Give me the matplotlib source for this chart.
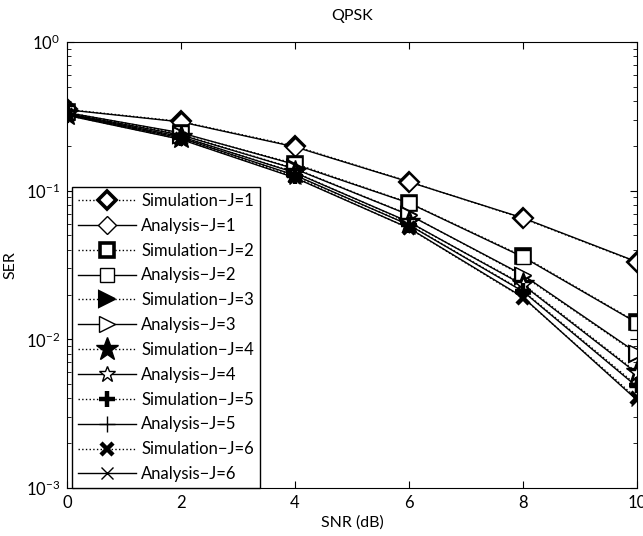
import numpy as np
import matplotlib.pyplot as plt

plt.rcParams['font.family'] = ['Lato', 'DejaVu Sans']
plt.rcParams['mathtext.fontset'] = 'custom'
plt.rcParams['mathtext.rm'] = 'Lato'

snr = [0, 2, 4, 6, 8, 10]

# analytical SER for J = 1..6
ana = [
    [0.350, 0.290, 0.197, 0.1145, 0.0655, 0.0332],
    [0.335, 0.245, 0.150, 0.0826, 0.0358, 0.0129],
    [0.330, 0.237, 0.140, 0.0687, 0.0271, 0.0081],
    [0.327, 0.231, 0.132, 0.0616, 0.0232, 0.0059],
    [0.324, 0.226, 0.127, 0.0588, 0.0210, 0.0048],
    [0.321, 0.221, 0.122, 0.0560, 0.0192, 0.0039],
]
# simulated SER for J = 1..6
sim = [
    [0.352, 0.292, 0.199, 0.1150, 0.0650, 0.0330],
    [0.336, 0.243, 0.152, 0.0830, 0.0362, 0.0130],
    [0.331, 0.238, 0.141, 0.0690, 0.0268, 0.0080],
    [0.328, 0.230, 0.133, 0.0612, 0.0235, 0.0060],
    [0.325, 0.227, 0.126, 0.0590, 0.0212, 0.0049],
    [0.322, 0.222, 0.123, 0.0558, 0.0190, 0.0040],
]

sim_style = [
    dict(marker='D', ms=9.5, mfc='white', mew=2.6),
    dict(marker='s', ms=9.5, mfc='white', mew=2.6),
    dict(marker='>', ms=12, mfc='black', mew=1.5),
    dict(marker='*', ms=17, mfc='black', mew=1.0),
    dict(marker='+', ms=11, mfc='black', mew=3.2),
    dict(marker='x', ms=8.5, mfc='black', mew=3.2),
]
ana_style = [
    dict(marker='D', ms=9.5, mfc='white', mew=1.0),
    dict(marker='s', ms=9.5, mfc='white', mew=1.0),
    dict(marker='>', ms=11, mfc='white', mew=1.0),
    dict(marker='*', ms=12, mfc='white', mew=1.0),
    dict(marker='+', ms=12, mfc='white', mew=1.0),
    dict(marker='x', ms=8, mfc='white', mew=1.0),
]

fig = plt.figure(figsize=(6.43, 5.36), dpi=100)
ax = fig.add_axes([67 / 643, 1 - 488 / 536, (637 - 67) / 643, (488 - 42) / 536])

for j in range(6):
    ax.semilogy(snr, sim[j], ':', color='black', lw=1.0, mec='black',
                label='Simulation\u2212J=%d' % (j + 1), **sim_style[j])
    ax.semilogy(snr, ana[j], '-', color='black', lw=1.0, mec='black',
                label='Analysis\u2212J=%d' % (j + 1), **ana_style[j])

ax.set_xlim(0, 10)
ax.set_ylim(1e-3, 1)
ax.set_xticks(snr)
ax.tick_params(which='both', direction='in', top=True, right=True, labelsize=12)
ax.tick_params(which='major', length=5, pad=5)
ax.tick_params(which='minor', length=3)
ax.set_xlabel('SNR (dB)', fontsize=11.5, labelpad=3)
ax.set_ylabel('SER', fontsize=11.5, labelpad=6)
ax.set_title('QPSK', fontsize=11.5, pad=16)

leg = ax.legend(loc='lower left', bbox_to_anchor=(0.009, 0.0), borderaxespad=0,
                fontsize=12, fancybox=False, edgecolor='black', framealpha=1,
                handlelength=3.5, labelspacing=0.53, handletextpad=0.3,
                borderpad=0.35)
leg.get_frame().set_linewidth(1.0)

fig.savefig('out.png', dpi=100)
